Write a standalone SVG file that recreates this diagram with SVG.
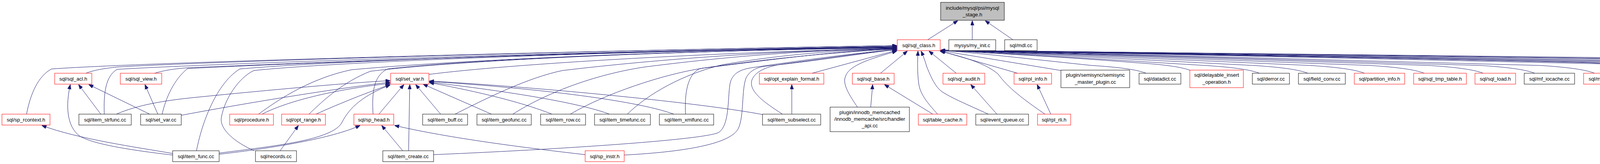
<svg xmlns="http://www.w3.org/2000/svg" width="5687" height="421" viewBox="0 0 5687 421">
<style>
.n rect{fill:#ffffff;stroke:#000000;stroke-width:1}
.n.r rect{stroke:#ff0000}
.n.g rect{fill:#bfbfbf}
.n text{font-family:"Liberation Sans",Arial,sans-serif;font-size:13px;fill:#000000;text-anchor:middle}
.e path{fill:none;stroke:#191970;stroke-width:1;marker-end:url(#ah)}
</style>
<defs>
<marker id="ah" viewBox="0 0 12 9" markerWidth="12" markerHeight="9" refX="12" refY="4.5" orient="auto" markerUnits="userSpaceOnUse"><path d="M0,0 L12,4.5 L0,9 z" fill="#191970" stroke="#191970" stroke-width="1"/></marker>
</defs>
<rect x="0" y="0" width="5687" height="421" fill="#ffffff"/>
<g class="e" id="edges">
<path d="M2375,102 L2452,53"/>
<path d="M2489,102 L2489,53"/>
<path d="M2593,102 L2522,53"/>
<path d="M68,293 C78,240 98,195 132,177 C400,158 1600,128 2296,117"/>
<path d="M220,188 C240,180 265,176 300,172 C600,155 1600,128 2296,117"/>
<path d="M267,293 C265,240 270,195 300,178 C600,160 1600,130 2296,119"/>
<path d="M396,188 C415,182 440,177 480,174 C800,160 1600,130 2296,119"/>
<path d="M415,293 C425,250 445,205 480,176 C800,160 1600,130 2296,120"/>
<path d="M503,387 C520,300 560,210 614,177 C900,152 1700,128 2296,121"/>
<path d="M651,387 C600,365 560,330 567,300 C575,255 610,200 650,181 C900,155 1700,128 2296,122"/>
<path d="M662,293 C720,250 800,200 900,179 C1200,152 1800,128 2296,122"/>
<path d="M791,293 C830,255 880,210 948,183 C1200,152 1800,128 2296,123"/>
<path d="M955,293 C952,240 955,195 992,177 C1200,152 1800,128 2296,123"/>
<path d="M1098,191 C1300,165 1800,135 2296,124"/>
<path d="M1165,293 C1250,250 1350,200 1440,181 C1700,150 2000,130 2296,124"/>
<path d="M1313,293 C1380,250 1500,195 1650,172 C1900,140 2100,128 2296,125"/>
<path d="M1460,293 C1550,240 1700,190 1800,175 C2000,150 2150,130 2296,125"/>
<path d="M1606,293 C1660,240 1750,190 1850,166 C2000,140 2150,128 2296,126"/>
<path d="M1755,293 C1752,240 1760,190 1792,176 C1900,160 2100,135 2296,126"/>
<path d="M1110,397 C1400,385 1800,360 1840,340 C1870,320 1862,240 1870,210 C1878,185 1900,177 1930,173 C2050,155 2200,135 2296,127"/>
<path d="M1598,398 C1750,390 1870,370 1890,330 C1905,300 1898,230 1910,200 C1920,180 1940,172 1960,170 C2100,155 2200,138 2296,127"/>
<path d="M2003,293 C1960,265 1915,235 1925,205 C1935,180 1970,170 2000,165 C2150,145 2230,132 2296,128"/>
<path d="M2079,188 L2296,129"/>
<path d="M2195,275 C2175,245 2155,215 2165,195 C2175,165 2240,148 2296,131"/>
<path d="M2254,188 L2323,131"/>
<path d="M2400,293 C2380,270 2356,245 2352,215 C2348,185 2349,160 2350,131"/>
<path d="M2530,293 C2480,270 2420,245 2405,230 C2390,215 2380,190 2372,170 C2368,155 2362,140 2358,131"/>
<path d="M2448,188 L2378,131"/>
<path d="M2675,293 C2620,255 2580,225 2555,190 C2520,160 2460,145 2406,131"/>
<path d="M2605,188 L2408,131"/>
<path d="M2716,181 L2408,130"/>
<path d="M2934,188 C2914,180 2874,173 2794,168 C2660,154 2525,138 2408,129"/>
<path d="M3048,181 C3028,173 2988,166 2908,161 C2734,147 2559,138 2408,129"/>
<path d="M3224,188 C3204,180 3164,173 3084,168 C2848,154 2612,138 2408,129"/>
<path d="M3348,188 C3328,180 3288,173 3208,168 C2929,154 2649,138 2408,129"/>
<path d="M3493,188 C3473,180 3433,173 3353,168 C3023,154 2693,138 2408,129"/>
<path d="M3646,188 C3626,180 3586,173 3506,168 C3122,154 2739,138 2408,129"/>
<path d="M3797,188 C3777,180 3737,173 3657,168 C3221,154 2784,138 2408,129"/>
<path d="M3929,188 C3909,180 3869,173 3789,168 C3306,154 2824,138 2408,129"/>
<path d="M4082,188 C4062,180 4022,173 3942,168 C3406,154 2870,138 2408,129"/>
<path d="M4210,181 C4190,173 4150,166 4070,161 C3489,147 2908,138 2408,129"/>
<path d="M4431,188 C4411,180 4371,173 4291,168 C3633,154 2974,138 2408,129"/>
<path d="M4623,188 C4603,180 4563,173 4483,168 C3757,154 3032,138 2408,129"/>
<path d="M4760,188 C4740,180 4700,173 4620,168 C3846,154 3073,138 2408,129"/>
<path d="M4935,188 C4915,180 4875,173 4795,168 C3960,154 3126,138 2408,129"/>
<path d="M5118,188 C5098,180 5058,173 4978,168 C4079,154 3180,138 2408,129"/>
<path d="M5254,181 C5234,173 5194,166 5114,161 C4168,147 3221,138 2408,129"/>
<path d="M5433,188 C5413,180 5373,173 5293,168 C4284,154 3275,138 2408,129"/>
<path d="M5590,188 C5570,180 5530,173 5450,168 C4386,154 3322,138 2408,129"/>
<path d="M258,293 L201,217"/>
<path d="M383,293 L227,217"/>
<path d="M442,398 C330,385 240,370 205,350 C170,325 168,270 180,217"/>
<path d="M442,394 C350,378 200,357 107,322"/>
<path d="M404,293 L371,217"/>
<path d="M298,293 C350,270 420,258 500,250 C700,230 900,212 999,207"/>
<path d="M464,296 C600,270 850,228 999,211"/>
<path d="M671,293 C730,262 850,230 999,214"/>
<path d="M809,293 C860,270 920,245 999,217"/>
<path d="M561,393 C700,375 850,360 875,315 C895,275 930,245 999,218"/>
<path d="M970,293 L1034,217"/>
<path d="M1046,387 L1049,217"/>
<path d="M1128,293 L1064,217"/>
<path d="M1258,293 L1083,216"/>
<path d="M1413,293 C1350,268 1250,240 1099,212"/>
<path d="M1560,293 C1500,270 1350,240 1099,211"/>
<path d="M1725,293 C1620,255 1350,225 1099,209"/>
<path d="M1952,294 C1800,265 1400,225 1099,208"/>
<path d="M561,396 C700,380 850,355 922,322"/>
<path d="M1031,387 L977,322"/>
<path d="M1498,397 C1350,380 1150,355 1010,322"/>
<path d="M717,387 L764,322"/>
<path d="M2027,293 L2027,217"/>
<path d="M2229,275 L2234,217"/>
<path d="M2388,293 L2264,217"/>
<path d="M2552,293 L2485,217"/>
<path d="M2690,293 L2655,217"/>
</g>
<g class="n g" id="root"><rect x="2408" y="6" width="163" height="46"/><text x="2489.5" y="24.5">include/mysql/psi/mysql</text><text x="2489.5" y="41.5">_stage.h</text></g>
<g class="n r" id="sql_class_h"><rect x="2297" y="102" width="110" height="28"/><text x="2352" y="120.5">sql/sql_class.h</text></g>
<g class="n" id="my_init_c"><rect x="2429" y="102" width="120" height="28"/><text x="2489" y="120.5">mysys/my_init.c</text></g>
<g class="n" id="mdl_cc"><rect x="2572" y="102" width="83" height="28"/><text x="2613.5" y="120.5">sql/mdl.cc</text></g>
<g class="n r" id="sql_acl_h"><rect x="140" y="188" width="95" height="28"/><text x="187.5" y="206.5">sql/sql_acl.h</text></g>
<g class="n r" id="sql_view_h"><rect x="308" y="188" width="106" height="28"/><text x="361" y="206.5">sql/sql_view.h</text></g>
<g class="n r" id="set_var_h"><rect x="1000" y="188" width="98" height="28"/><text x="1049" y="206.5">sql/set_var.h</text></g>
<g class="n r" id="opt_explain_format_h"><rect x="1944" y="188" width="165" height="28"/><text x="2026.5" y="206.5">sql/opt_explain_format.h</text></g>
<g class="n r" id="sql_base_h"><rect x="2182" y="188" width="107" height="28"/><text x="2235.5" y="206.5">sql/sql_base.h</text></g>
<g class="n r" id="sql_audit_h"><rect x="2414" y="188" width="107" height="28"/><text x="2467.5" y="206.5">sql/sql_audit.h</text></g>
<g class="n r" id="rpl_info_h"><rect x="2596" y="188" width="96" height="28"/><text x="2644" y="206.5">sql/rpl_info.h</text></g>
<g class="n" id="semisync_master_plugin_cc"><rect x="2716" y="180" width="176" height="45"/><text x="2804" y="197">plugin/semisync/semisync</text><text x="2804" y="215">_master_plugin.cc</text></g>
<g class="n" id="datadict_cc"><rect x="2916" y="188" width="107" height="28"/><text x="2969.5" y="206.5">sql/datadict.cc</text></g>
<g class="n r" id="delayable_insert_operation_h"><rect x="3046" y="180" width="137" height="45"/><text x="3114.5" y="197">sql/delayable_insert</text><text x="3114.5" y="215">_operation.h</text></g>
<g class="n" id="derror_cc"><rect x="3206" y="188" width="95" height="28"/><text x="3253.5" y="206.5">sql/derror.cc</text></g>
<g class="n" id="field_conv_cc"><rect x="3324" y="188" width="120" height="28"/><text x="3384" y="206.5">sql/field_conv.cc</text></g>
<g class="n r" id="partition_info_h"><rect x="3467" y="188" width="129" height="28"/><text x="3531.5" y="206.5">sql/partition_info.h</text></g>
<g class="n r" id="sql_tmp_table_h"><rect x="3619" y="188" width="135" height="28"/><text x="3686.5" y="206.5">sql/sql_tmp_table.h</text></g>
<g class="n r" id="sql_load_h"><rect x="3776" y="188" width="104" height="28"/><text x="3828" y="206.5">sql/sql_load.h</text></g>
<g class="n" id="mf_iocache_cc"><rect x="3902" y="188" width="129" height="28"/><text x="3966.5" y="206.5">sql/mf_iocache.cc</text></g>
<g class="n r" id="my_decimal_cc"><rect x="4054" y="188" width="132" height="28"/><text x="4120" y="206.5">sql/my_decimal.cc</text></g>
<g class="n" id="ndb_global_schema_lock_cc"><rect x="4209" y="180" width="158" height="45"/><text x="4288" y="197">sql/ndb_global_schema</text><text x="4288" y="215">_lock.cc</text></g>
<g class="n" id="ndb_local_connection_cc"><rect x="4390" y="188" width="187" height="28"/><text x="4483.5" y="206.5">sql/ndb_local_connection.cc</text></g>
<g class="n" id="protocol_cc"><rect x="4601" y="188" width="107" height="28"/><text x="4654.5" y="206.5">sql/protocol.cc</text></g>
<g class="n" id="rpl_gtid_cache_cc"><rect x="4731" y="188" width="146" height="28"/><text x="4804" y="206.5">sql/rpl_gtid_cache.cc</text></g>
<g class="n" id="rpl_gtid_execution_cc"><rect x="4899" y="188" width="167" height="28"/><text x="4982.5" y="206.5">sql/rpl_gtid_execution.cc</text></g>
<g class="n r" id="rpl_gtid_misc_cc"><rect x="5089" y="188" width="139" height="28"/><text x="5158.5" y="206.5">sql/rpl_gtid_misc.cc</text></g>
<g class="n" id="rpl_gtid_mutex_cond_array_cc"><rect x="5252" y="180" width="128" height="45"/><text x="5316" y="197">sql/rpl_gtid_mutex</text><text x="5316" y="215">_cond_array.cc</text></g>
<g class="n" id="rpl_gtid_state_cc"><rect x="5403" y="188" width="140" height="28"/><text x="5473" y="206.5">sql/rpl_gtid_state.cc</text></g>
<g class="n r" id="sql_cursor_h"><rect x="5566" y="188" width="116" height="28"/><text x="5624" y="206.5">sql/sql_cursor.h</text></g>
<g class="n r" id="sp_rcontext_h"><rect x="5" y="293" width="123" height="28"/><text x="66.5" y="311.5">sql/sp_rcontext.h</text></g>
<g class="n" id="item_strfunc_cc"><rect x="202" y="293" width="134" height="28"/><text x="269" y="311.5">sql/item_strfunc.cc</text></g>
<g class="n" id="set_var_cc"><rect x="360" y="293" width="104" height="28"/><text x="412" y="311.5">sql/set_var.cc</text></g>
<g class="n r" id="procedure_h"><rect x="588" y="293" width="112" height="28"/><text x="644" y="311.5">sql/procedure.h</text></g>
<g class="n r" id="opt_range_h"><rect x="721" y="293" width="112" height="28"/><text x="777" y="311.5">sql/opt_range.h</text></g>
<g class="n r" id="sp_head_h"><rect x="906" y="293" width="102" height="28"/><text x="957" y="311.5">sql/sp_head.h</text></g>
<g class="n" id="item_buff_cc"><rect x="1082" y="293" width="115" height="28"/><text x="1139.5" y="311.5">sql/item_buff.cc</text></g>
<g class="n" id="item_geofunc_cc"><rect x="1221" y="293" width="139" height="28"/><text x="1290.5" y="311.5">sql/item_geofunc.cc</text></g>
<g class="n" id="item_row_cc"><rect x="1384" y="293" width="115" height="28"/><text x="1441.5" y="311.5">sql/item_row.cc</text></g>
<g class="n" id="item_timefunc_cc"><rect x="1522" y="293" width="143" height="28"/><text x="1593.5" y="311.5">sql/item_timefunc.cc</text></g>
<g class="n" id="item_xmlfunc_cc"><rect x="1688" y="293" width="139" height="28"/><text x="1757.5" y="311.5">sql/item_xmlfunc.cc</text></g>
<g class="n" id="item_subselect_cc"><rect x="1952" y="293" width="149" height="28"/><text x="2026.5" y="311.5">sql/item_subselect.cc</text></g>
<g class="n" id="handler_api_cc"><rect x="2125" y="275" width="203" height="63"/><text x="2226.5" y="293">plugin/innodb_memcached</text><text x="2226.5" y="310">/innodb_memcache/src/handler</text><text x="2226.5" y="327">_api.cc</text></g>
<g class="n r" id="table_cache_h"><rect x="2351" y="293" width="124" height="28"/><text x="2413" y="311.5">sql/table_cache.h</text></g>
<g class="n" id="event_queue_cc"><rect x="2498" y="293" width="135" height="28"/><text x="2565.5" y="311.5">sql/event_queue.cc</text></g>
<g class="n r" id="rpl_rli_h"><rect x="2656" y="293" width="85" height="28"/><text x="2698.5" y="311.5">sql/rpl_rli.h</text></g>
<g class="n" id="item_func_cc"><rect x="442" y="387" width="119" height="28"/><text x="501.5" y="405.5">sql/item_func.cc</text></g>
<g class="n" id="records_cc"><rect x="654" y="387" width="105" height="28"/><text x="706.5" y="405.5">sql/records.cc</text></g>
<g class="n" id="item_create_cc"><rect x="980" y="387" width="130" height="28"/><text x="1045" y="405.5">sql/item_create.cc</text></g>
<g class="n r" id="sp_instr_h"><rect x="1498" y="387" width="100" height="28"/><text x="1548" y="405.5">sql/sp_instr.h</text></g>
</svg>
